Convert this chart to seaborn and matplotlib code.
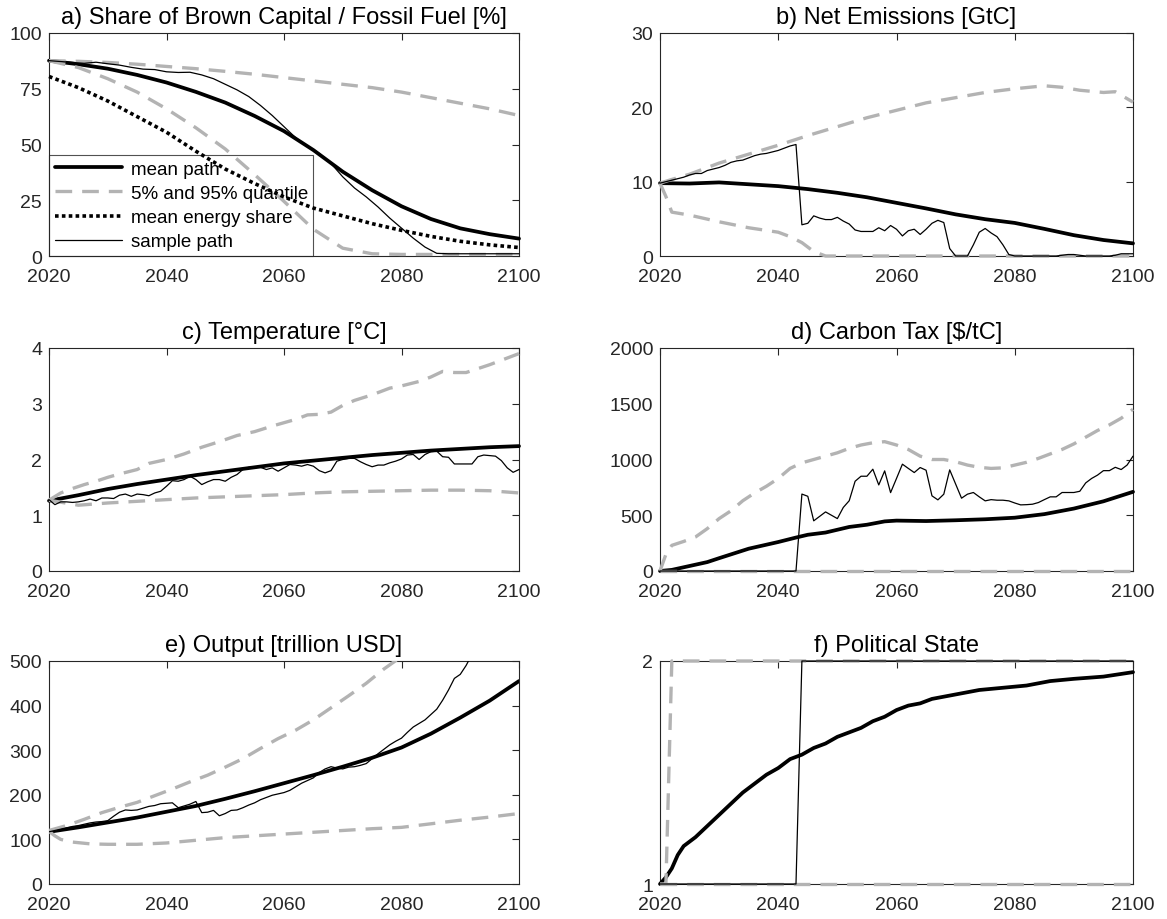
import numpy as np
import pandas as pd
import matplotlib
matplotlib.use("Agg")
import matplotlib.pyplot as plt
import seaborn as sns
from matplotlib.lines import Line2D

# ---------------- data ----------------
years5 = list(range(2020, 2101, 5))
years2 = list(range(2020, 2101, 2))
years1 = list(range(2020, 2101))

# a) share of brown capital / fossil fuel [%]
a_mean = [87.6, 86.0, 84.0, 81.2, 77.8, 73.6, 68.8, 62.8, 56.0, 47.5, 37.8, 29.5, 22.3, 16.6, 12.4, 9.8, 7.8]
a_q95 = [87.6, 87.3, 86.8, 86.0, 85.0, 84.0, 82.8, 81.5, 80.0, 78.5, 77.0, 75.5, 73.5, 71.0, 68.5, 66.0, 63.0]
a_q05 = [87.6, 84.5, 79.5, 73.5, 66.0, 57.5, 48.0, 36.5, 24.5, 12.0, 3.5, 1.0, 0.7, 0.7, 0.7, 0.7, 0.7]
a_energy = [80.5, 75.5, 69.5, 62.5, 55.5, 47.0, 39.0, 32.5, 26.5, 21.5, 18.0, 14.5, 11.5, 8.8, 6.6, 5.0, 3.8]
a_sample = [87.6, 87.2, 86.8, 86.4, 86.9, 86.2, 85.6, 84.6, 83.8, 83.6, 82.6, 82.3, 82.4, 81.2, 79.5,
            77.0, 74.5, 71.5, 67.5, 63.0, 58.0, 53.0, 49.0, 46.0, 41.5, 35.5, 30.5, 26.5, 22.0, 17.0,
            12.5, 8.0, 4.0, 1.2, 1.0, 1.0, 1.0, 1.0, 1.0, 1.0, 1.0]

# b) net emissions [GtC]
b_mean = [9.8, 9.75, 9.9, 9.65, 9.4, 9.0, 8.5, 7.9, 7.15, 6.4, 5.6, 4.95, 4.45, 3.65, 2.8, 2.15, 1.7]
b_q95_years = [2020, 2022, 2025, 2028, 2030, 2035, 2040, 2045, 2050, 2055, 2060, 2065, 2070, 2075, 2080,
               2085, 2088, 2091, 2095, 2097, 2100]
b_q95 = [9.8, 10.3, 11.0, 11.9, 12.5, 13.7, 14.9, 16.2, 17.4, 18.6, 19.6, 20.6, 21.3, 22.0, 22.5,
         22.9, 22.7, 22.3, 22.0, 22.1, 20.7]
b_q05_years = [2020, 2021, 2022, 2025, 2030, 2035, 2040, 2042, 2044, 2046, 2048, 2100]
b_q05 = [9.8, 8.0, 5.9, 5.5, 4.6, 3.8, 3.2, 2.6, 1.8, 0.6, 0.0, 0.0]
b_sample = [9.8, 10.0, 10.2, 10.4, 10.6, 10.9, 11.1, 11.1, 11.5, 11.7, 11.9, 12.2, 12.6, 12.8, 12.9,
            13.2, 13.5, 13.7, 13.8, 14.0, 14.2, 14.5, 14.8, 15.0, 4.2, 4.4, 5.4, 5.1, 4.9, 4.9,
            5.2, 4.7, 4.3, 3.5, 3.3, 3.3, 3.3, 3.8, 3.4, 4.1, 3.6, 2.7, 3.4, 3.6, 2.9,
            3.6, 4.4, 4.8, 4.5, 1.0, 0.0, 0.0, 0.0, 1.5, 3.2, 3.7, 3.1, 2.6, 1.5, 0.2,
            0.0, 0.0, 0.0, 0.0, 0.0, 0.0, 0.0, 0.0, 0.1, 0.2, 0.2, 0.1, 0.0, 0.0, 0.0,
            0.0, 0.0, 0.1, 0.3, 0.3, 0.3]

# c) temperature [°C]
c_mean = [1.26, 1.36, 1.47, 1.56, 1.64, 1.72, 1.79, 1.86, 1.93, 1.98, 2.03, 2.08, 2.12, 2.16, 2.19, 2.22, 2.24]
c_q95_years = [2020, 2022, 2024, 2026, 2028, 2030, 2032, 2035, 2037, 2040, 2043, 2046, 2049, 2052, 2055,
               2058, 2060, 2062, 2064, 2066, 2068, 2070, 2072, 2075, 2078, 2080, 2083, 2085, 2087, 2089,
               2091, 2093, 2095, 2098, 2100]
c_q95 = [1.27, 1.40, 1.48, 1.55, 1.61, 1.68, 1.74, 1.82, 1.93, 2.00, 2.10, 2.22, 2.32, 2.43, 2.50,
         2.60, 2.66, 2.72, 2.80, 2.81, 2.85, 2.97, 3.06, 3.16, 3.28, 3.32, 3.40, 3.48, 3.58, 3.56,
         3.56, 3.63, 3.70, 3.82, 3.90]
c_q05 = [1.27, 1.18, 1.22, 1.25, 1.28, 1.31, 1.33, 1.35, 1.37, 1.40, 1.42, 1.43, 1.44, 1.45, 1.45, 1.44, 1.40]
c_sample = [1.28, 1.19, 1.24, 1.24, 1.23, 1.24, 1.26, 1.29, 1.26, 1.31, 1.31, 1.30, 1.36, 1.38, 1.34,
            1.38, 1.37, 1.35, 1.40, 1.43, 1.52, 1.62, 1.61, 1.64, 1.70, 1.64, 1.55, 1.60, 1.64, 1.64,
            1.61, 1.68, 1.73, 1.82, 1.86, 1.86, 1.86, 1.82, 1.85, 1.79, 1.85, 1.91, 1.90, 1.88, 1.91,
            1.88, 1.80, 1.76, 1.80, 1.97, 2.00, 2.02, 2.02, 1.96, 1.91, 1.87, 1.90, 1.90, 1.94, 1.97,
            2.01, 2.08, 2.09, 2.00, 2.09, 2.14, 2.15, 2.05, 2.04, 1.92, 1.92, 1.92, 1.92, 2.05, 2.08,
            2.07, 2.06, 1.98, 1.85, 1.77, 1.82]

# d) carbon tax [$/tC]
d_mean_years = [2020, 2022, 2025, 2028, 2030, 2035, 2040, 2043, 2045, 2048, 2050, 2052, 2055, 2058, 2060,
                2065, 2070, 2075, 2080, 2085, 2090, 2095, 2100]
d_mean = [0, 10, 45, 80, 115, 200, 260, 300, 325, 345, 370, 395, 415, 445, 452,
          448, 455, 464, 478, 510, 560, 625, 710]
d_q95_years = [2020, 2021] + list(range(2022, 2101, 2))
d_q95 = [0, 150, 230, 265, 305, 380, 470, 540, 630, 700, 760, 830, 920, 970, 1000, 1030, 1060, 1100,
         1130, 1150, 1160, 1130, 1090, 1030, 1000, 1000, 980, 950, 930, 920, 925, 950, 975, 1010,
         1050, 1090, 1140, 1200, 1260, 1310, 1370, 1450]
d_q05_years = [2020, 2100]
d_q05 = [0, 0]
d_sample = [0] * 24 + [690, 670, 450, 490, 530, 500, 470, 570, 630, 805, 850, 850, 913, 772, 898,
                       703, 830, 958, 920, 883, 928, 904, 674, 638, 689, 907, 780, 653, 689, 704,
                       665, 629, 640, 635, 635, 629, 610, 593, 595, 599, 614, 640, 665, 665, 704,
                       704, 704, 715, 790, 830, 860, 900, 900, 930, 910, 950, 1030]

# e) output [trillion USD]
e_mean = [117, 127, 138, 149, 162, 175, 191, 208, 226, 244, 263, 283, 306, 337, 373, 411, 455]
e_q95_years = [2020, 2023, 2026, 2029, 2032, 2035, 2038, 2041, 2044, 2047, 2050, 2053, 2056, 2059, 2062,
               2065, 2068, 2071, 2074, 2077, 2080]
e_q95 = [120, 131, 145, 160, 172, 183, 198, 213, 229, 244, 262, 281, 304, 326, 345,
         368, 395, 422, 450, 482, 510]
e_q05_years = [2020, 2021, 2022, 2024, 2027, 2030, 2035, 2040, 2045, 2050, 2055, 2060, 2065, 2070,
               2075, 2080, 2085, 2090, 2095, 2100]
e_q05 = [118, 108, 100, 94, 90, 89, 89, 92, 98, 104, 108, 112, 116, 120, 124, 127, 135, 143, 150, 158]
e_sample_years = list(range(2020, 2094))
e_sample = [117, 120, 123, 126, 129, 131, 134, 137, 139, 140, 142, 152, 161, 166, 165,
            166, 170, 174, 176, 180, 181, 182, 171, 175, 179, 185, 160, 161, 165, 153,
            158, 165, 166, 171, 177, 182, 189, 194, 199, 202, 205, 210, 218, 226, 232,
            238, 250, 258, 263, 260, 258, 262, 263, 266, 270, 281, 292, 302, 312, 320,
            327, 340, 352, 360, 368, 380, 392, 412, 435, 461, 470, 490, 515, 545]

# f) political state
f_mean_years = [2020, 2021, 2022, 2023, 2024, 2026, 2028, 2030, 2032, 2034, 2036, 2038, 2040, 2042,
                2044, 2046, 2048, 2050, 2052, 2054, 2056, 2058, 2060, 2062, 2064, 2066, 2068, 2070,
                2074, 2078, 2082, 2086, 2090, 2095, 2100]
f_mean = [1.0, 1.03, 1.07, 1.13, 1.17, 1.21, 1.26, 1.31, 1.36, 1.41, 1.45, 1.49, 1.52, 1.56,
          1.58, 1.61, 1.63, 1.66, 1.68, 1.70, 1.73, 1.75, 1.78, 1.80, 1.81, 1.83, 1.84, 1.85,
          1.87, 1.88, 1.89, 1.91, 1.92, 1.93, 1.95]
f_q95_years = [2020, 2021, 2022, 2100]
f_q95 = [1, 1, 2, 2]
f_q05_years = [2020, 2100]
f_q05 = [1, 1]
f_sample_years = [2020, 2043, 2044, 2100]
f_sample = [1, 1, 2, 2]

titles = ["a) Share of Brown Capital / Fossil Fuel [%]", "b) Net Emissions [GtC]",
          "c) Temperature [\u00b0C]", "d) Carbon Tax [$/tC]",
          "e) Output [trillion USD]", "f) Political State"]
yticks = [[0, 25, 50, 75, 100], [0, 10, 20, 30], [0, 1, 2, 3, 4],
          [0, 500, 1000, 1500, 2000], [0, 100, 200, 300, 400, 500], [1, 2]]
xticks = [2020, 2040, 2060, 2080, 2100]
legend_labels = ["mean path", "5% and 95% quantile", "mean energy share", "sample path"]

# ---------------- style ----------------
sns.set_theme(style="white")
plt.rcParams['font.family'] = ['Liberation Sans', 'DejaVu Sans']
plt.rcParams['text.color'] = 'black'

GRAY = (0.7, 0.7, 0.7)
AXC = '#262626'
STY = {
    'mean': dict(color='black', linewidth=2.7, linestyle='-'),
    'quant': dict(color=GRAY, linewidth=2.4, linestyle=(0, (5, 3))),
    'energy': dict(color='black', linewidth=2.6, linestyle=(0, (1, 0.9))),
    'sample': dict(color='black', linewidth=0.9, linestyle='-'),
}

panels = [
    [('mean', years5, a_mean), ('quant', years5, a_q95), ('quant', years5, a_q05),
     ('energy', years5, a_energy), ('sample', years2, a_sample)],
    [('mean', years5, b_mean), ('quant', b_q95_years, b_q95), ('quant', b_q05_years, b_q05),
     ('sample', years1, b_sample)],
    [('mean', years5, c_mean), ('quant', c_q95_years, c_q95), ('quant', years5, c_q05),
     ('sample', years1, c_sample)],
    [('mean', d_mean_years, d_mean), ('quant', d_q95_years, d_q95), ('quant', d_q05_years, d_q05),
     ('sample', years1, d_sample)],
    [('mean', years5, e_mean), ('quant', e_q95_years, e_q95), ('quant', e_q05_years, e_q05),
     ('sample', e_sample_years, e_sample)],
    [('mean', f_mean_years, f_mean), ('quant', f_q95_years, f_q95), ('quant', f_q05_years, f_q05),
     ('sample', f_sample_years, f_sample)],
]

W, H = 1167, 920
fig = plt.figure(figsize=(W / 100, H / 100), dpi=100)
col_lr = [(49, 519), (660, 1133)]
row_tb = [(34, 257), (349, 572), (662, 885)]

for i in range(6):
    r, c = divmod(i, 2)
    l, rr = col_lr[c]
    t, b = row_tb[r]
    ax = fig.add_axes([l / W, 1 - b / H, (rr - l) / W, (b - t) / H])
    unclipped = (i != 4)
    for kind, xs, ys in panels[i]:
        df = pd.DataFrame({'year': xs, 'value': ys})
        sns.lineplot(data=df, x='year', y='value', ax=ax, errorbar=None, sort=True,
                     zorder=3, clip_on=not unclipped, **STY[kind])
    ax.set_xlim(2020, 2100)
    ax.set_ylim(yticks[i][0], yticks[i][-1])
    ax.set_xticks(xticks)
    ax.set_yticks(yticks[i])
    ax.set_xlabel('')
    ax.set_ylabel('')
    ax.tick_params(direction='in', length=5, width=0.8, colors=AXC, labelsize=14,
                   top=True, right=True, labelcolor=AXC)
    ax.tick_params(axis='x', pad=9)
    ax.tick_params(axis='y', pad=5)
    for sp in ax.spines.values():
        sp.set_visible(True)
        sp.set_color(AXC)
        sp.set_linewidth(0.8)
    ax.set_title(titles[i], fontsize=17, pad=7, color='black')
    ax.set_facecolor('white')

    if i == 0:
        handles = [Line2D([], [], **STY['mean']), Line2D([], [], **STY['quant']),
                   Line2D([], [], **STY['energy']), Line2D([], [], **STY['sample'])]
        leg = ax.legend(handles, legend_labels, loc='lower left', bbox_to_anchor=(0, 0),
                        borderaxespad=0, frameon=True, fancybox=False, fontsize=13.5,
                        handlelength=3.6, handletextpad=0.45, labelspacing=0.38,
                        borderpad=0.3, edgecolor=AXC, facecolor='none')
        leg.get_frame().set_linewidth(0.8)
        leg.set_zorder(2)

fig.savefig('out.png', dpi=100, facecolor='white')
